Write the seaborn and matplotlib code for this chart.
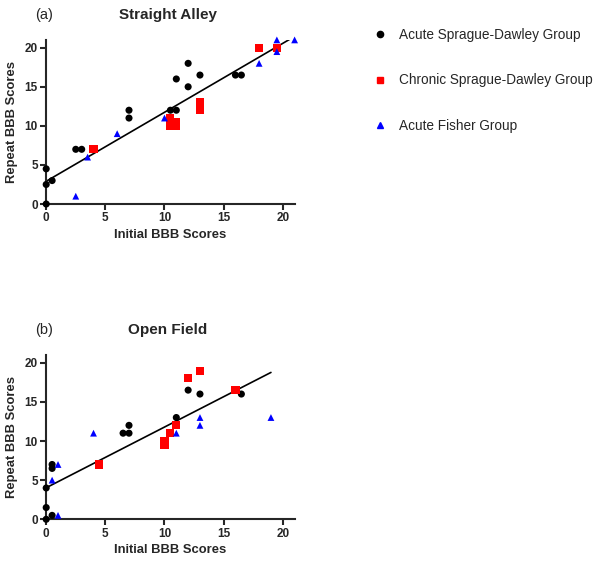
import pandas as pd
import seaborn as sns
import matplotlib.pyplot as plt
from matplotlib.lines import Line2D

groups = ["Acute Sprague-Dawley Group", "Chronic Sprague-Dawley Group", "Acute Fisher Group"]

## (a) Straight Alley
sa_acute_sd_x = [0, 0, 0, 0.5, 2.5, 3, 7, 7, 10.5, 11, 11, 12, 12, 13, 16, 16.5]
sa_acute_sd_y = [4.5, 2.5, 0, 3, 7, 7, 12, 11, 12, 12, 16, 18, 15, 16.5, 16.5, 16.5]
sa_chronic_sd_x = [4, 10.5, 10.5, 11, 11, 13, 13, 18, 19.5]
sa_chronic_sd_y = [7, 11, 10, 10.5, 10, 13, 12, 20, 20]
sa_fisher_x = [2.5, 3.5, 6, 10, 18, 19.5, 19.5, 21]
sa_fisher_y = [1, 6, 9, 11, 18, 21, 19.5, 21]

## (b) Open Field
of_acute_sd_x = [0, 0, 0, 0.5, 0.5, 0.5, 6.5, 7, 7, 11, 12, 13, 16.5]
of_acute_sd_y = [0, 1.5, 4, 0.5, 7, 6.5, 11, 11, 12, 13, 16.5, 16, 16]
of_chronic_sd_x = [4.5, 10, 10, 10.5, 11, 12, 13, 16]
of_chronic_sd_y = [7, 10, 9.5, 11, 12, 18, 19, 16.5]
of_fisher_x = [0.5, 1, 1, 4, 11, 13, 13, 19]
of_fisher_y = [5, 7, 0.5, 11, 11, 13, 12, 13]

tick_vals = [0, 5, 10, 15, 20]


def make_df(xs, ys):
    parts = []
    for g, x, y in zip(groups, xs, ys):
        parts.append(pd.DataFrame({"initial": x, "repeat": y, "group": g}))
    return pd.concat(parts, ignore_index=True)


df_a = make_df([sa_acute_sd_x, sa_chronic_sd_x, sa_fisher_x],
               [sa_acute_sd_y, sa_chronic_sd_y, sa_fisher_y])
df_b = make_df([of_acute_sd_x, of_chronic_sd_x, of_fisher_x],
               [of_acute_sd_y, of_chronic_sd_y, of_fisher_y])

sns.set_style("ticks")
plt.rcParams['font.family'] = ['Liberation Sans', 'DejaVu Sans']

palette = {groups[0]: "black", groups[1]: "#ff0000", groups[2]: "#0000ff"}
markers = {groups[0]: "o", groups[1]: "s", groups[2]: "^"}
sizes = {groups[0]: 26, groups[1]: 34, groups[2]: 24}

fig = plt.figure(figsize=(6, 5.62), dpi=100)
ax_a = fig.add_axes([0.077, 0.637, 0.414, 0.292])
ax_b = fig.add_axes([0.077, 0.076, 0.414, 0.2925])

for ax, df, letter, title in [(ax_a, df_a, "(a)", "Straight Alley"),
                              (ax_b, df_b, "(b)", "Open Field")]:
    ## single fit over all three groups, as in the original
    sns.regplot(data=df, x="initial", y="repeat", ax=ax, scatter=False, ci=None,
                line_kws={'color': 'black', 'lw': 1.2}, truncate=True)
    for g in groups:
        sub = df[df.group == g]
        ax.scatter(sub.initial, sub.repeat, color=palette[g], marker=markers[g],
                   s=sizes[g], edgecolor='none', zorder=3, clip_on=False)
    ax.set_xlim(0, 21)
    ax.set_ylim(0, 21)
    ax.set_xticks(tick_vals)
    ax.set_yticks(tick_vals)
    ax.tick_params(direction='out', length=4, width=1.5, labelsize=8.5, pad=2)
    for lbl in ax.get_xticklabels() + ax.get_yticklabels():
        lbl.set_fontweight('bold')
    for s in ['left', 'bottom']:
        ax.spines[s].set_linewidth(1.5)
    sns.despine(ax=ax)
    ax.set_xlabel("Initial BBB Scores", fontsize=9.4, fontweight='bold', labelpad=3)
    ax.set_ylabel("Repeat BBB Scores", fontsize=9.4, fontweight='bold', labelpad=5)
    pos = ax.get_position()
    fig.text(0.058, pos.y1 + 0.045, letter, fontsize=10.5, va='center', ha='left')
    fig.text(0.28, pos.y1 + 0.045, title, fontsize=11, fontweight='bold', va='center', ha='center')

handles = [Line2D([], [], ls='none', marker=markers[g], color=palette[g], markersize=4.5)
           for g in groups]
fig.legend(handles, groups, loc='upper left', bbox_to_anchor=(0.6, 0.972),
           frameon=False, fontsize=9.8, labelspacing=2.3, handletextpad=0.8, handlelength=1.2)

plt.savefig("out.png", dpi=100)
